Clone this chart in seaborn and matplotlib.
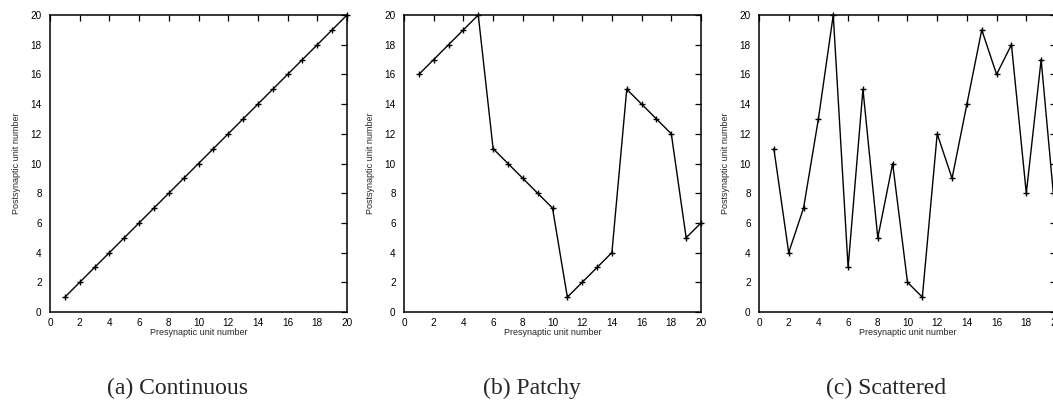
import matplotlib
matplotlib.use("Agg")
import matplotlib.pyplot as plt
import seaborn as sns
import pandas as pd

# Presynaptic unit index and the postsynaptic unit it projects to
pre_units = list(range(1, 21))
continuous = [1, 2, 3, 4, 5, 6, 7, 8, 9, 10, 11, 12, 13, 14, 15, 16, 17, 18, 19, 20]
patchy = [16, 17, 18, 19, 20, 11, 10, 9, 8, 7, 1, 2, 3, 4, 15, 14, 13, 12, 5, 6]
scattered = [11, 4, 7, 13, 20, 3, 15, 5, 10, 2, 1, 12, 9, 14, 19, 16, 18, 8, 17, 6]

captions = ["(a) Continuous", "(b) Patchy", "(c) Scattered"]
tick_values = list(range(0, 21, 2))

sns.set_style("white")
plt.rcParams["font.family"] = ["Liberation Sans", "DejaVu Sans"]

W, H = 1053, 403
fig = plt.figure(figsize=(W / 100, H / 100), dpi=100)

lefts = [50, 404, 759]
ax_w, ax_h = 297, 297
bottom_px = 312

for i, (vals, cap) in enumerate(zip([continuous, patchy, scattered], captions)):
    ax = fig.add_axes([lefts[i] / W, 1 - bottom_px / H, ax_w / W, ax_h / H])
    df = pd.DataFrame({"pre": pre_units, "post": vals})
    sns.lineplot(data=df, x="pre", y="post", ax=ax, color="black", lw=1.0,
                 marker="+", markersize=5, markeredgewidth=1.0,
                 markeredgecolor="black", clip_on=False)
    ax.set_xlim(0, 20)
    ax.set_ylim(0, 20)
    ax.set_xticks(tick_values)
    ax.set_yticks(tick_values)
    ax.tick_params(direction="in", length=4, width=0.9, top=True, right=True,
                   labelsize=7.2, colors="black", pad=4)
    ax.tick_params(axis="y", pad=6)
    for s in ax.spines.values():
        s.set_linewidth(1.1)
        s.set_color("black")
        s.set_visible(True)
    ax.set_xlabel("Presynaptic unit number", fontsize=6.5, labelpad=0)
    ax.set_ylabel("Postsynaptic unit number", fontsize=6.5, labelpad=7)
    fig.text((lefts[i] + ax_w / 2 - 21) / W, 1 - 388 / H, cap,
             ha="center", va="center", fontsize=17,
             family=["Liberation Serif", "DejaVu Serif"])

fig.savefig("out.png", dpi=100)
